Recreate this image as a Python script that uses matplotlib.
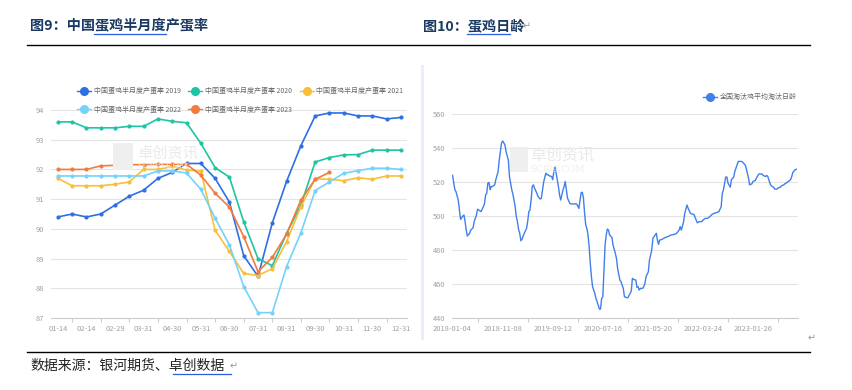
import matplotlib
matplotlib.use("Agg")
import matplotlib.pyplot as plt
from matplotlib.lines import Line2D
from matplotlib.patches import Rectangle
import pandas as pd

plt.rcParams['font.family'] = ['Noto Sans CJK SC', 'DejaVu Sans']

# ---- left chart data: half-monthly laying rate (%) ----
periods = ['01-14', '01-31', '02-14', '02-21', '02-29', '03-14', '03-31', '04-14',
           '04-30', '05-14', '05-31', '06-14', '06-30', '07-14', '07-31', '08-14',
           '08-31', '09-14', '09-30', '10-14', '10-31', '11-14', '11-30', '12-14', '12-31']
rate_2019 = [90.4, 90.5, 90.4, 90.5, 90.8, 91.1, 91.3, 91.7, 91.9, 92.2, 92.2, 91.7, 90.9,
             89.1, 88.4, 90.2, 91.6, 92.8, 93.8, 93.9, 93.9, 93.8, 93.8, 93.7, 93.75]
rate_2020 = [93.6, 93.6, 93.4, 93.4, 93.4, 93.45, 93.45, 93.7, 93.62, 93.57, 92.88, 92.06, 91.74,
             90.24, 89.0, 88.76, 89.85, 90.8, 92.25, 92.4, 92.49, 92.5, 92.65, 92.65, 92.65]
rate_2021 = [91.7, 91.45, 91.45, 91.45, 91.5, 91.58, 92.0, 92.0, 92.1, 91.98, 91.94, 89.95, 89.24,
             88.5, 88.43, 88.66, 89.57, 90.75, 91.68, 91.67, 91.62, 91.72, 91.67, 91.78, 91.78]
rate_2022 = [91.78, 91.78, 91.78, 91.78, 91.78, 91.78, 91.78, 91.95, 91.95, 91.88, 91.33, 90.36,
             89.46, 88.06, 87.18, 87.18, 88.73, 89.87, 91.29, 91.58, 91.87, 91.96, 92.04, 92.04, 92.0]
rate_2023 = [92.0, 92.0, 92.0, 92.12, 92.14, 92.16, 92.16, 92.17, 92.17, 92.17, 91.81, 91.2,
             90.73, 89.74, 88.56, 89.04, 89.82, 90.97, 91.67, 91.9]

years = ['2019', '2020', '2021', '2022', '2023']
year_colors = ['#2f6fe4', '#1dc4a5', '#f8bf3a', '#74d2fb', '#f27b3d']

# ---- right chart data: culled hen age (days), weeks after 2018-01-04 ----
age_week = [0, 2, 3, 5, 6, 7, 9, 10, 11, 12, 13, 15, 16, 18, 19, 21, 22, 23, 25, 26, 28, 29, 30,
            31, 32, 33, 34, 35, 37, 38, 40, 41, 42, 43, 44, 46, 47, 49, 50, 52, 53, 55, 56, 57,
            58, 59, 60, 61, 62, 63, 65, 66, 67, 68, 69, 70, 71, 72, 74, 75, 77, 78, 79, 80, 82,
            83, 84, 85, 87, 88, 89, 90, 91, 93, 94, 95, 96, 97, 98, 99, 100, 101, 103, 104, 107,
            109, 111, 112, 113, 114, 115, 116, 117, 118, 119, 120, 121, 122, 123, 125, 126, 128,
            129, 130, 131, 132, 133, 134, 135, 136, 137, 138, 140, 141, 143, 144, 145, 147, 148,
            150, 151, 153, 154, 156, 157, 158, 159, 161, 162, 163, 164, 165, 167, 168, 169, 170,
            172, 173, 175, 176, 178, 179, 180, 181, 182, 184, 187, 189, 192, 195, 197, 199, 200,
            201, 203, 204, 206, 207, 209, 210, 212, 214, 215, 217, 219, 220, 222, 224, 226, 228,
            230, 232, 234, 236, 237, 238, 240, 241, 242, 244, 245, 247, 248, 250, 251, 254, 255,
            257, 258, 260, 261, 263, 264, 266, 267, 269, 270, 272, 273, 275, 276, 277, 279, 280,
            282, 283, 285, 286, 288, 289, 291, 292, 294, 295, 297, 298, 299, 301, 302]
age_days = [524, 515.5, 514.4, 509.4, 503.5, 498, 500, 500.6, 496.7, 491.7, 488.2, 489.8, 491.7,
            493, 496.7, 500.6, 504, 503.5, 502.6, 504, 507, 512.4, 513.4, 519.4, 519.8, 515.5,
            517.4, 517.4, 518.4, 521.4, 526.3, 533, 538, 543, 544.3, 542, 538, 533, 523.3, 515.5,
            513, 505.5, 499.6, 496.7, 492.1, 489.8, 485.4, 486.2, 488.2, 489.8, 492.7, 496.7,
            502.6, 503.5, 509.4, 517.4, 518.4, 516.5, 513.5, 511.6, 510, 510.4, 515.4, 520, 525.3,
            524.3, 524.3, 523.7, 523.3, 521.4, 526.3, 528.8, 525.3, 517.4, 512.5, 509.4, 512.4,
            515.4, 517.3, 520.4, 515.5, 510.5, 507.5, 507.1, 507.1, 507.1, 504.5, 509.4, 513.8,
            514, 510.4, 501.6, 494.7, 492.7, 488.8, 481.9, 472, 464.2, 458.3, 454.3, 451.4, 447.4,
            445.1, 445.1, 451.4, 452.4, 468.1, 482.9, 488.8, 492.3, 491.7, 488.8, 487.4, 482.9,
            478, 475, 469.1, 462.2, 461.2, 457.3, 452.4, 451.8, 451.8, 454.3, 455.7, 463.2, 462.6,
            462.2, 457.9, 458.3, 456.3, 457.3, 457.3, 458.3, 460.2, 464.2, 467.1, 474, 479.9,
            486.8, 488.8, 489.8, 485.8, 483.3, 485.8, 486.2, 487.4, 487.8, 488.8, 489.2, 489.8,
            491.7, 493.7, 491.7, 496.7, 501.6, 506.5, 504.5, 501.6, 501.2, 501, 497.6, 496, 496.7,
            496.7, 497.6, 498.6, 498.6, 499.6, 501, 501.6, 502, 502.6, 505.5, 513.4, 515.5, 523,
            523, 519.4, 517, 521.4, 523, 526.3, 530.2, 532.2, 532.2, 531.6, 530.2, 528.2, 522.4,
            518.4, 519, 520.4, 521, 522.4, 524.7, 524.9, 524.7, 523.9, 523.3, 523.9, 523.3, 519,
            517.8, 517, 515.9, 515.9, 516.5, 517, 517.8, 518.4, 519, 519.8, 520.4, 521.4, 523.3,
            525.7, 527.3, 527.6]

start_date = pd.Timestamp('2018-01-04')
label_weeks = [0, 44, 88, 132, 176, 220, 264]

fig = plt.figure(figsize=(8.52, 3.9), dpi=100)
W, H = 852, 390

def fx(px):
    return px / W

def fy(py):
    return 1 - py / H

navy = '#1b3a63'
tick_gray = '#a0a0a0'

# ---- page decorations ----
fig.text(fx(30), fy(26), '图9：中国蛋鸡半月度产蛋率', fontsize=10.2, fontweight='bold',
         color=navy, va='center', ha='left')
fig.text(fx(423), fy(26), '图10：蛋鸡日龄', fontsize=10.2, fontweight='bold',
         color=navy, va='center', ha='left')
fig.text(fx(523), fy(26), '↵', fontsize=7, color='#999999', va='center')
fig.add_artist(Line2D([fx(27), fx(810)], [fy(44.5), fy(44.5)], color='black', lw=1.0))
fig.add_artist(Line2D([fx(94), fx(166)], [fy(34), fy(34)], color='#2b5fd9', lw=0.9))
fig.add_artist(Line2D([fx(467), fx(510)], [fy(34), fy(34)], color='#2b5fd9', lw=0.9))
fig.add_artist(Rectangle((fx(421), fy(340)), fx(3), (340 - 65) / H,
                         color='#e8eefa', lw=0))
fig.add_artist(Line2D([fx(27), fx(810)], [fy(352.3), fy(352.3)], color='black', lw=1.0))
fig.text(fx(30), fy(366), '数据来源：银河期货、卓创数据', fontsize=10, color='#222222',
         va='center', ha='left')
fig.add_artist(Line2D([fx(173), fx(231)], [fy(373.5), fy(373.5)], color='#2b5fd9', lw=0.9))
fig.text(fx(230), fy(366), '↵', fontsize=7, color='#999999', va='center')
fig.text(fx(808), fy(338), '↵', fontsize=7, color='#999999', va='center')

# ---- left chart ----
ax1 = fig.add_axes([fx(50.7), fy(318), fx(406.7 - 50.7), (318 - 110) / H])
for yr, vals, col in zip(years, [rate_2019, rate_2020, rate_2021, rate_2022, rate_2023],
                         year_colors):
    ax1.plot(range(len(vals)), vals, color=col, lw=1.2, marker='o', ms=2.0,
             label='中国蛋鸡半月度产蛋率 ' + yr, zorder=3)
ax1.set_xlim(-0.5, len(periods) - 0.6)
ax1.set_ylim(87, 94)
ax1.set_yticks(range(87, 95))
ax1.grid(axis='y', color='#e4e4e4', lw=0.8)
ax1.set_axisbelow(True)
ax1.set_xticks(range(1, len(periods), 2))
ax1.set_xticklabels([])
ax1.set_xticks(range(0, len(periods), 2), minor=True)
ax1.set_xticklabels(periods[0::2], minor=True)
ax1.tick_params(axis='x', which='major', length=3, color='#cccccc', width=0.8)
ax1.tick_params(axis='x', which='minor', length=0, pad=5, labelsize=5.4, labelcolor=tick_gray)
ax1.tick_params(axis='y', length=0, pad=5, labelsize=5.4, labelcolor=tick_gray)
for s in ['top', 'right', 'left']:
    ax1.spines[s].set_visible(False)
ax1.spines['bottom'].set_color('#cccccc')
ax1.spines['bottom'].set_linewidth(0.8)

handles = [Line2D([], [], color=c, lw=1.0, marker='o', ms=5.5) for c in year_colors]
labels = ['中国蛋鸡半月度产蛋率 ' + y for y in years]
order = [0, 3, 1, 4, 2]
ax1.legend([handles[i] for i in order], [labels[i] for i in order], ncol=3,
           loc='upper left', bbox_to_anchor=(fx(77), fy(87)), bbox_transform=fig.transFigure,
           frameon=False, fontsize=5.0, labelcolor='#666666', handlelength=2.0,
           handletextpad=0.4, columnspacing=1.1, labelspacing=1.5, borderpad=0,
           borderaxespad=0, numpoints=1)

# watermark
fig.add_artist(Rectangle((fx(113), fy(170)), fx(20), 27 / H, color='#efefef', lw=0))
fig.text(fx(137), fy(153), '卓创资讯', fontsize=11, color='#e9e9e9', va='center', zorder=0)
fig.text(fx(137), fy(166), 'SCI99.COM', fontsize=6, color='#efefef', va='center',
         family='DejaVu Serif', zorder=0)

# ---- right chart ----
ax2 = fig.add_axes([fx(452), fy(317.7), fx(798 - 452), (317.7 - 114.3) / H])
ax2.plot(age_week, age_days, color='#3f80ea', lw=1.0, label='全国淘汰鸡平均淘汰日龄', zorder=3)
ax2.set_xlim(-0.5, 303.5)
ax2.set_ylim(440, 560)
ax2.set_yticks(range(440, 561, 20))
ax2.grid(axis='y', color='#e4e4e4', lw=0.8)
ax2.set_axisbelow(True)
ax2.set_xticks([w + 22 for w in label_weeks])
ax2.set_xticklabels([])
ax2.set_xticks(label_weeks, minor=True)
ax2.set_xticklabels([(start_date + pd.Timedelta(weeks=w)).strftime('%Y-%m-%d')
                     for w in label_weeks], minor=True)
ax2.tick_params(axis='x', which='major', length=3, color='#cccccc', width=0.8)
ax2.tick_params(axis='x', which='minor', length=0, pad=5, labelsize=5.4, labelcolor=tick_gray)
ax2.tick_params(axis='y', length=0, pad=5, labelsize=5.4, labelcolor=tick_gray)
for s in ['top', 'right', 'left']:
    ax2.spines[s].set_visible(False)
ax2.spines['bottom'].set_color('#cccccc')
ax2.spines['bottom'].set_linewidth(0.8)
ax2.legend(handles=[Line2D([], [], color='#3f80ea', lw=1.0, marker='o', ms=5.5)],
           labels=['全国淘汰鸡平均淘汰日龄'], loc='upper right',
           bbox_to_anchor=(fx(797), fy(93)), bbox_transform=fig.transFigure,
           frameon=False, fontsize=5.0, labelcolor='#666666', handlelength=2.0,
           handletextpad=0.4, borderpad=0, borderaxespad=0, numpoints=1)

fig.add_artist(Rectangle((fx(510), fy(172)), fx(18), 25 / H, color='#efefef', lw=0))
fig.text(fx(530), fy(155), '卓创资讯', fontsize=11.5, color='#e9e9e9', va='center', zorder=0)
fig.text(fx(530), fy(169), 'SCI99.COM', fontsize=6.5, color='#efefef', va='center',
         family='DejaVu Serif', zorder=0)

fig.savefig('out.png', dpi=100)
